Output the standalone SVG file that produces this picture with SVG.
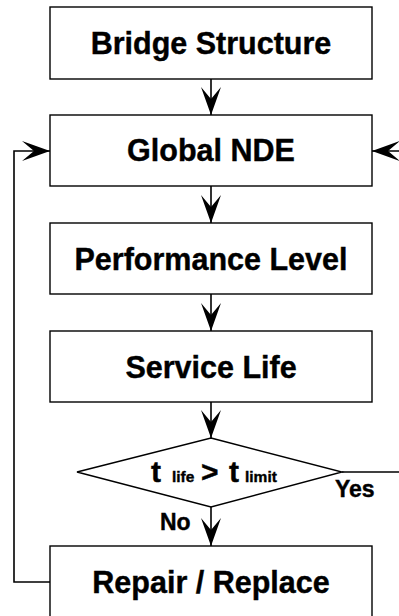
<svg xmlns="http://www.w3.org/2000/svg" width="399" height="616" viewBox="0 0 399 616">
<style>
.box{fill:#fff;stroke:#000;stroke-width:1.4}
.lbl{font-family:"Liberation Sans",Arial,sans-serif;font-weight:bold;font-size:30.5px;fill:#000;stroke:#000;stroke-width:0.4;text-anchor:middle}
.sm{font-family:"Liberation Sans",Arial,sans-serif;font-weight:bold;fill:#000;stroke:#000;stroke-width:0.4}
.ln{fill:none;stroke:#000;stroke-width:1.6}
</style>
<defs>
<marker id="ah" markerUnits="userSpaceOnUse" markerWidth="30" markerHeight="24" viewBox="0 -12 30 24" refX="28" refY="0" orient="auto">
<path d="M0,-10 L28,0 L0,10 L12,0 Z" fill="#000"/>
</marker>
</defs>
<rect width="399" height="616" fill="#fff"/>
<g id="connectors">
<line class="ln" x1="211" y1="79" x2="211" y2="115" marker-end="url(#ah)"/>
<line class="ln" x1="211" y1="186" x2="211" y2="223" marker-end="url(#ah)"/>
<line class="ln" x1="211" y1="294" x2="211" y2="331" marker-end="url(#ah)"/>
<line class="ln" x1="211" y1="402" x2="211" y2="438" marker-end="url(#ah)"/>
<line class="ln" x1="211" y1="507" x2="211" y2="546" marker-end="url(#ah)"/>
<polyline class="ln" points="50,582 14,582 14,151 50,151" marker-end="url(#ah)"/>
<line class="ln" x1="342" y1="472" x2="410" y2="472"/>
<line class="ln" x1="425" y1="151" x2="372" y2="151" marker-end="url(#ah)"/>
<text class="sm" x="335" y="497" font-size="23">Yes</text>
<text class="sm" x="160" y="530" font-size="23">No</text>
</g>
<g id="bridge-structure">
<rect class="box" x="50" y="7" width="322" height="72"/>
<text class="lbl" x="211" y="54">Bridge Structure</text>
</g>
<g id="global-nde">
<rect class="box" x="50" y="115" width="322" height="71"/>
<text class="lbl" x="211" y="161">Global NDE</text>
</g>
<g id="performance-level">
<rect class="box" x="50" y="223" width="322" height="71"/>
<text class="lbl" x="211" y="269.5">Performance Level</text>
</g>
<g id="service-life">
<rect class="box" x="50" y="331" width="322" height="71"/>
<text class="lbl" x="211" y="377.5">Service Life</text>
</g>
<g id="decision">
<polygon class="box" points="211,438 342,472 211,507 77,472"/>
<text class="sm" y="482"><tspan x="151" font-size="30">t</tspan><tspan x="172" font-size="15.5">life</tspan><tspan x="201" font-size="30">&gt;</tspan><tspan x="229" font-size="30">t</tspan><tspan x="245" font-size="15.5">limit</tspan></text>
</g>
<g id="repair-replace">
<rect class="box" x="50" y="546" width="322" height="72"/>
<text class="lbl" x="211" y="593">Repair / Replace</text>
</g>
</svg>
